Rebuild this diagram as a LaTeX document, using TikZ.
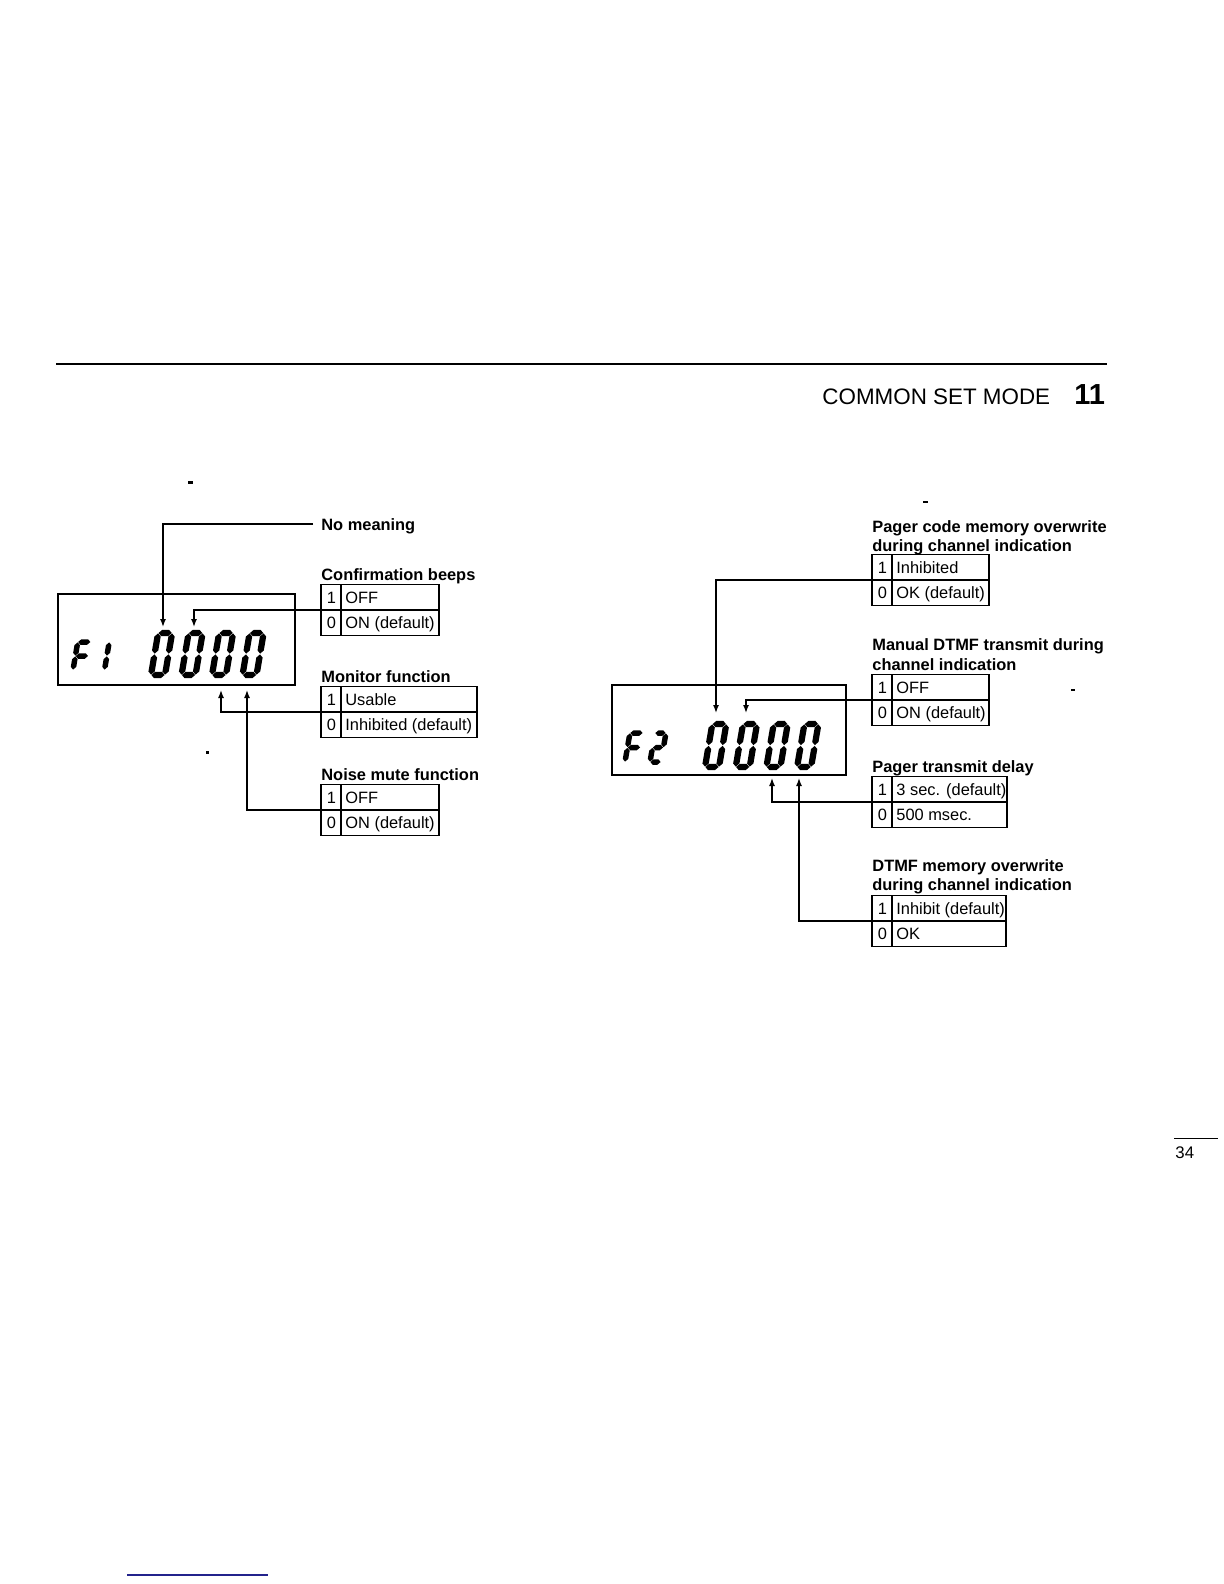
\documentclass[tikz,border=0pt]{standalone}
\usepackage{fontspec}
\setmainfont{Liberation Sans}
\usetikzlibrary{arrows.meta}
\definecolor{scanblue}{RGB}{35,35,140}
\newcommand\sgthick{5}
\newcommand\sggap{0.4}
\newcommand\sgh[3]{\fill ({#1+\sggap},#3) -- ({#1+\sggap+\sgthick/2},{#3-\sgthick/2}) -- ({#2-\sggap-\sgthick/2},{#3-\sgthick/2}) -- ({#2-\sggap},#3) -- ({#2-\sggap-\sgthick/2},{#3+\sgthick/2}) -- ({#1+\sggap+\sgthick/2},{#3+\sgthick/2}) -- cycle;}
\newcommand\sgv[3]{\fill (#1,{#2+\sggap}) -- ({#1+\sgthick/2},{#2+\sggap+\sgthick/2}) -- ({#1+\sgthick/2},{#3-\sggap-\sgthick/2}) -- (#1,{#3-\sggap}) -- ({#1-\sgthick/2},{#3-\sggap-\sgthick/2}) -- ({#1-\sgthick/2},{#2+\sggap+\sgthick/2}) -- cycle;}
\newcommand\sga{\sgh{0}{\sgW}{-\sgH}}
\newcommand\sgb{\sgv{\sgW}{-\sgH}{-\sgH/2}}
\newcommand\sgc{\sgv{\sgW}{-\sgH/2}{0}}
\newcommand\sgd{\sgh{0}{\sgW}{0}}
\newcommand\sge{\sgv{0}{-\sgH/2}{0}}
\newcommand\sgf{\sgv{0}{-\sgH}{-\sgH/2}}
\newcommand\sgg{\sgh{0}{\sgW}{-\sgH/2}}
\newcommand\sgdigit[6]{%
  \begin{scope}[shift={(#1,#2)},xslant=0.17]
    \def\sgW{#3}\def\sgH{#4}\def\sgthick{#5}#6
  \end{scope}}
\newcommand\sgzero{\sga\sgb\sgc\sgd\sge\sgf}
\newcommand\opttab[6]{%
  \draw[tabline] (#2,#3) rectangle ({#2+#4},{#3+51});
  \draw[tabline] (#2,{#3+25.5}) -- ({#2+#4},{#3+25.5});
  \draw[tabline] ({#2+20},#3) -- ({#2+20},{#3+51});
  \node[cell,anchor=base] (#1-n1) at ({#2+10.5},{#3+18.6}) {1};
  \node[cell,anchor=base] (#1-n0) at ({#2+10.5},{#3+44.1}) {0};
  \node[cell,anchor=base west] (#1-t1) at ({#2+24},{#3+18.6}) {#5};
  \node[cell,anchor=base west] (#1-t0) at ({#2+24},{#3+44.1}) {#6};
  \coordinate (#1-mid) at (#2,{#3+25.5});
}
\begin{document}
\begin{tikzpicture}[x=0.5pt,y=-0.5pt,
  tabline/.style={line width=0.8pt},
  cell/.style={inner sep=0pt,font=\fontsize{8.2}{9.5}\selectfont},
  lab/.style={inner sep=0pt,anchor=base west,font=\bfseries\fontsize{8.2}{9.5}\selectfont},
  conn/.style={line width=0.7pt,-{Latex[length=4pt,width=3pt]}},
  dispbox/.style={draw,line width=0.9pt,inner sep=0pt}]
\useasboundingbox (0,0) rectangle (1224,1584);

% header
\draw[line width=1.3pt] (56,364) -- (1107,364);
\node[inner sep=0pt,anchor=base west,font=\fontsize{11.2}{13}\selectfont] (hdr) at (822,404) {COMMON SET MODE};
\node[inner sep=0pt,anchor=base west,font=\bfseries\fontsize{14.5}{16}\selectfont] (chap) at (1074,404) {11};

% page number
\draw[line width=0.5pt] (1174,1138) -- (1218,1138);
\node[inner sep=0pt,anchor=base west,font=\fontsize{8.4}{10}\selectfont] (pnum) at (1175,1158) {34};
\draw[scanblue,line width=1pt] (127,1575) -- (268,1575);

% scan specks
\fill (188,481) rectangle (193,483.5);
\fill (206,751) rectangle (208.5,753.5);
\fill (923,501) rectangle (928,503);
\fill (1071,689) rectangle (1075,691);

% ===== Left display F1 =====
\node[dispbox,minimum width=118.5pt,minimum height=45.5pt] (disp1) at (176.5,639.5) {};
\sgdigit{73}{670}{13}{28}{5.5}{\sga\sgf\sge\sgg}
\sgdigit{104.5}{670}{0}{28}{5.5}{\sgb\sgc}
\sgdigit{151}{675}{14}{42}{6.3}{\sgzero}
\sgdigit{181.5}{675}{14}{42}{6.3}{\sgzero}
\sgdigit{212}{675}{14}{42}{6.3}{\sgzero}
\sgdigit{242.5}{675}{14}{42}{6.3}{\sgzero}

\node[lab] (nomean) at (321,530) {No meaning};
\node[lab] (confl) at (321,580) {Confirmation beeps};
\opttab{conf}{321}{584.5}{118}{OFF}{ON (default)}
\node[lab] (monl) at (321,682) {Monitor function};
\opttab{mon}{321}{686.5}{156}{Usable}{Inhibited (default)}
\node[lab] (noisel) at (321,780) {Noise mute function};
\opttab{noise}{321}{784.5}{118}{OFF}{ON (default)}

\coordinate (tA) at (163,627);
\coordinate (tB) at (194,627);
\coordinate (tC) at (221,690);
\coordinate (tD) at (247,690);
\draw[conn] ([xshift=-4pt,yshift=1pt]nomean.west) -| (tA);
\draw[conn] (conf-mid) -| (tB);
\draw[conn] (mon-mid) -| (tC);
\draw[conn] (noise-mid) -| (tD);

% ===== Right display F2 =====
\node[dispbox,minimum width=117pt,minimum height=45pt] (disp2) at (729,730) {};
\sgdigit{625}{762}{13}{29}{5.5}{\sga\sgf\sge\sgg}
\sgdigit{650}{762}{11}{29}{5.5}{\sga\sgb\sgg\sge\sgd}
\sgdigit{705}{767}{14}{43}{6.3}{\sgzero}
\sgdigit{735.7}{767}{14}{43}{6.3}{\sgzero}
\sgdigit{766.4}{767}{14}{43}{6.3}{\sgzero}
\sgdigit{797.1}{767}{14}{43}{6.3}{\sgzero}

\node[lab] (pgl1) at (872,532) {Pager code memory overwrite};
\node[lab] (pgl2) at (872,551) {during channel indication};
\opttab{pg}{872}{554.5}{117}{Inhibited}{OK (default)}
\node[lab] (manl1) at (872,650) {Manual DTMF transmit during};
\node[lab] (manl2) at (872,670) {channel indication};
\opttab{man}{872}{674.5}{117}{OFF}{ON (default)}
\node[lab] (dlyl) at (872,772) {Pager transmit delay};
\opttab{dly}{872}{776.5}{135}{3 sec. (default)}{500 msec.}
\node[lab] (dtml1) at (872,871) {DTMF memory overwrite};
\node[lab] (dtml2) at (872,890) {during channel indication};
\opttab{dtm}{872}{895.5}{134}{Inhibit (default)}{OK}

\coordinate (tE) at (716,713);
\coordinate (tF) at (746,713);
\coordinate (tG) at (772,778);
\coordinate (tH) at (799,778);
\draw[conn] (pg-mid) -| (tE);
\draw[conn] (man-mid) -| (tF);
\draw[conn] (dly-mid) -| (tG);
\draw[conn] (dtm-mid) -| (tH);
\end{tikzpicture}
\end{document}
